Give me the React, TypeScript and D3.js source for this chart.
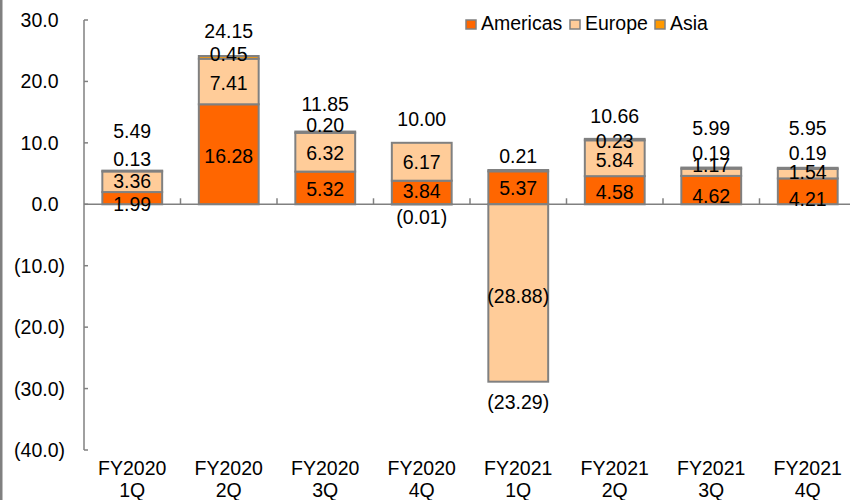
import React, { useEffect } from "react";
import * as d3 from "d3";

const categories = ["FY2020 1Q", "FY2020 2Q", "FY2020 3Q", "FY2020 4Q", "FY2021 1Q", "FY2021 2Q", "FY2021 3Q", "FY2021 4Q"];
const americas = [1.99, 16.28, 5.32, 3.84, 5.37, 4.58, 4.62, 4.21];
const europe = [3.36, 7.41, 6.32, 6.17, -28.88, 5.84, 1.17, 1.54];
const asia = [0.13, 0.45, 0.2, -0.01, 0.21, 0.23, 0.19, 0.19];
const totals = [5.49, 24.15, 11.85, 10.0, -23.29, 10.66, 5.99, 5.95];
const yTicks = [30, 20, 10, 0, -10, -20, -30, -40];
const seriesNames = ["Americas", "Europe", "Asia"];

// layout-only label nudges (px)
const americasLabelDy = [6, 2, 1, -1, 0, 2, 6, 8];
const europeLabelDy = [-1, 1, 1, 0, 3, 2, -7, -2];
const asiaLabelDy = [-12, -2, -7, 13, -14, 2, -15, -15];
const totalLabelDy = [-40, -25, -28, -24, 20, -23, -40, -40];

const COLORS: Record<string, string> = { Americas: "#FF6600", Europe: "#FFCC99", Asia: "#FF9900" };
const STROKE = "#808080";
const FONT = "'Liberation Sans', Arial, sans-serif";
const FS = 19.5;

const W = 850, H = 500;
const plotLeft = 84, plotTop = 20, plotBottom = 450;
const step = 96.5;

const fmt = (v: number) => (v < 0 ? `(${Math.abs(v).toFixed(2)})` : v.toFixed(2));
const fmtAxis = (v: number) => (v < 0 ? `(${Math.abs(v).toFixed(1)})` : v.toFixed(1));

export default function App() {
  useEffect(() => {
    document.body.style.margin = "0";
  }, []);

  const x = d3.scaleBand<string>().domain(categories).range([plotLeft, plotLeft + step * categories.length]).padding(0);
  const y = d3.scaleLinear().domain([-40, 30]).range([plotBottom, plotTop]);
  const barW = x.step() * 0.62;

  const rows = categories.map((c, i) => ({ cat: c, Americas: americas[i], Europe: europe[i], Asia: asia[i] }));
  const stack = d3.stack<any>().keys(seriesNames).offset(d3.stackOffsetDiverging);
  const layers = stack(rows);

  const y0 = y(0);
  const dys: Record<string, number[]> = { Americas: americasLabelDy, Europe: europeLabelDy };

  return (
    <svg width={W} height={H} style={{ position: "absolute", left: 0, top: 0, background: "#fff" }} fontFamily={FONT}>
      <rect x={0} y={0} width={W} height={H} fill="#fff" />
      <rect x={0} y={0} width={2.5} height={H} fill={STROKE} />

      {/* bars */}
      {layers.map((layer) => (
        <g key={layer.key}>
          {layer.map((d, i) => {
            const top = y(Math.max(d[0], d[1]));
            const bot = y(Math.min(d[0], d[1]));
            const cx = (x(categories[i]) as number) + x.step() / 2;
            return (
              <rect key={i} x={cx - barW / 2} y={top} width={barW} height={Math.max(bot - top, 0)}
                fill={COLORS[layer.key]} stroke={STROKE} strokeWidth={2} />
            );
          })}
        </g>
      ))}

      {/* y axis */}
      <line x1={plotLeft} x2={plotLeft} y1={plotTop} y2={plotBottom} stroke={STROKE} strokeWidth={1.5} />
      {yTicks.map((t) => (
        <g key={t}>
          <line x1={plotLeft} x2={plotLeft + 4} y1={y(t)} y2={y(t)} stroke={STROKE} strokeWidth={1.5} />
          <text x={65} y={y(t)} textAnchor="end" dominantBaseline="central" fontSize={FS} fill="#000">
            {fmtAxis(t)}
            {t >= 0 ? <tspan fillOpacity={0}>)</tspan> : null}
          </text>
        </g>
      ))}

      {/* x axis at zero */}
      <line x1={plotLeft} x2={plotLeft + step * categories.length} y1={y0} y2={y0} stroke={STROKE} strokeWidth={1.5} />
      {categories.map((c, i) => (
        <line key={c} x1={plotLeft + (i + 1) * x.step()} x2={plotLeft + (i + 1) * x.step()} y1={y0 - 6} y2={y0}
          stroke={STROKE} strokeWidth={1.5} />
      ))}
      {categories.map((c) => {
        const [a, b] = c.split(" ");
        const cx = (x(c) as number) + x.step() / 2;
        return (
          <text key={c} x={cx} textAnchor="middle" fontSize={FS} fill="#000">
            <tspan x={cx} y={468} dominantBaseline="central">{a}</tspan>
            <tspan x={cx} y={490} dominantBaseline="central">{b}</tspan>
          </text>
        );
      })}

      {/* segment labels */}
      {layers.filter((l) => l.key !== "Asia").map((layer) => (
        <g key={"l" + layer.key}>
          {layer.map((d, i) => {
            const cx = (x(categories[i]) as number) + x.step() / 2;
            const cy = (y(d[0]) + y(d[1])) / 2 + dys[layer.key][i];
            const v = layer.key === "Americas" ? americas[i] : europe[i];
            return (
              <text key={i} x={cx} y={cy} textAnchor="middle" dominantBaseline="central" fontSize={FS} fill="#000">
                {fmt(v)}
              </text>
            );
          })}
        </g>
      ))}
      {layers.filter((l) => l.key === "Asia").map((layer) => (
        <g key="lAsia">
          {layer.map((d, i) => {
            const cx = (x(categories[i]) as number) + x.step() / 2;
            const end = asia[i] >= 0 ? y(d[1]) : y(d[0]);
            return (
              <text key={i} x={cx} y={end + asiaLabelDy[i]} textAnchor="middle" dominantBaseline="central" fontSize={FS} fill="#000">
                {fmt(asia[i])}
              </text>
            );
          })}
        </g>
      ))}

      {/* totals */}
      {totals.map((t, i) => {
        const cx = (x(categories[i]) as number) + x.step() / 2;
        const ends = layers.map((l) => l[i]);
        const ref = t >= 0 ? y(d3.max(ends, (e) => Math.max(e[0], e[1])) as number) : y(d3.min(ends, (e) => Math.min(e[0], e[1])) as number);
        return (
          <text key={i} x={cx} y={ref + totalLabelDy[i]} textAnchor="middle" dominantBaseline="central" fontSize={FS} fill="#000">
            {fmt(t)}
          </text>
        );
      })}

      {/* legend */}
      {seriesNames.map((s, i) => {
        const lx = [466, 570, 655][i];
        return (
          <g key={s}>
            <rect x={lx} y={20} width={10} height={9} fill={COLORS[s]} stroke={STROKE} strokeWidth={1.5} />
            <text x={lx + 15} y={30} fontSize={FS} fill="#000">{s}</text>
          </g>
        );
      })}
    </svg>
  );
}
